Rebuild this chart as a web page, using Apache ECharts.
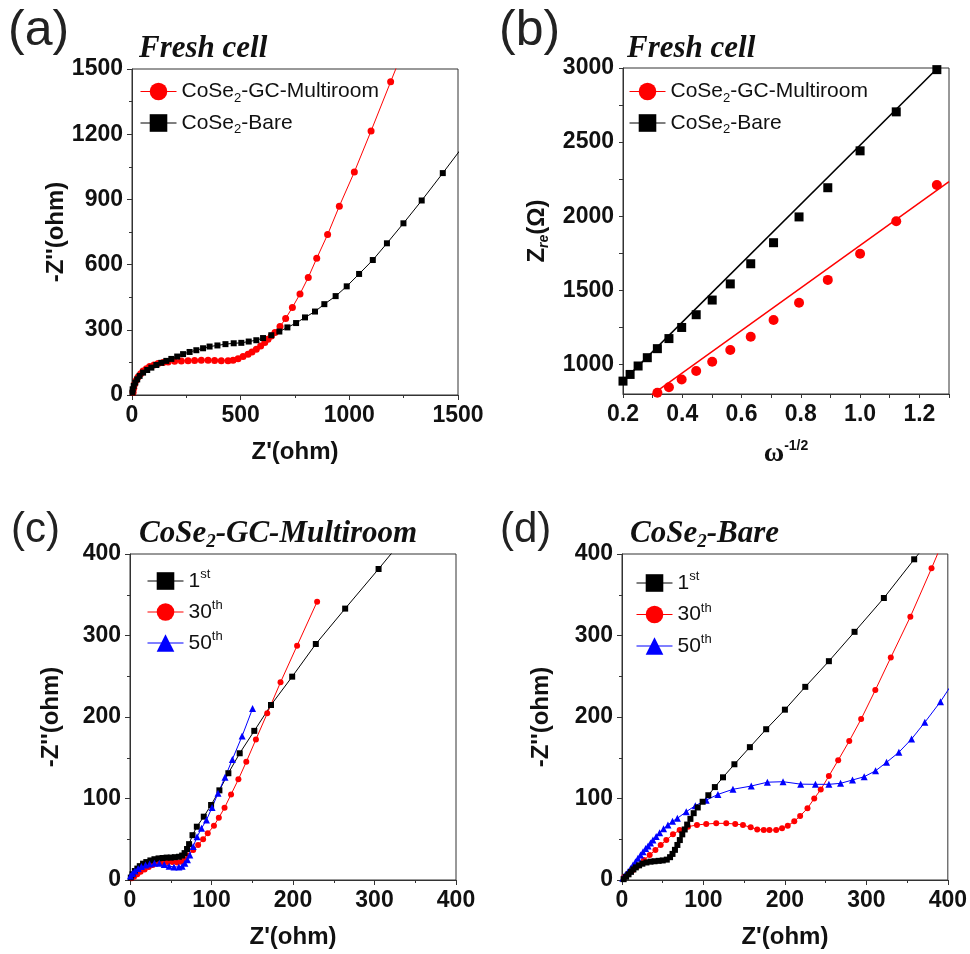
<!DOCTYPE html>
<html>
<head>
<meta charset="utf-8">
<script src="https://cdn.jsdelivr.net/npm/echarts@6/dist/echarts.min.js"></script>
<style>
html, body { margin: 0; padding: 0; background: #fff; }
#chart { width: 970px; height: 954px; }
</style>
</head>
<body>
<div id="chart"></div>
<script>
// (a) fresh cell, Nyquist plot  [Z', -Z'']
var aGC = [[5,11],[8,31],[12,49],[20,68],[28,83],[40,98],[51,111],[66,121],[81,131],[101,138],[120,145],[143,149],[166,152],[196,155],[227,157],[258,158],[288,159],[319,160],[350,160],[380,159],[411,158],[442,158],[465,160],[488,167],[511,177],[534,188],[552,198],[572,211],[592,226],[611,241],[626,257],[641,272],[658,288],[681,315],[707,352],[738,403],[773,465],[811,541],[850,629],[900,738],[954,869],[1023,1026],[1100,1215],[1190,1441],[1290,1690]];
var aBare = [[2,11],[3,26],[8,42],[15,57],[24,72],[35,88],[51,103],[70,115],[89,126],[112,138],[135,148],[158,157],[181,166],[208,177],[235,188],[265,198],[296,206],[327,215],[357,223],[393,228],[430,234],[468,238],[503,240],[537,246],[572,252],[603,262],[641,275],[678,292],[715,311],[755,331],[796,357],[842,384],[885,418],[937,455],[988,500],[1045,557],[1108,621],[1173,698],[1249,790],[1333,895],[1430,1021],[1535,1160]];

// (b) Zre vs omega^-1/2
var bOmega = [1.259,1.122,1.0,0.891,0.794,0.708,0.631,0.562,0.501,0.447,0.398,0.355,0.316,0.282,0.251,0.224,0.200];
var bBare = [2989,2704,2441,2192,1995,1821,1679,1543,1434,1335,1249,1174,1106,1045,989,932,887];
var bGC = [2210,1966,1747,1570,1416,1299,1186,1097,1018,955,898,846,808];
var bFitX = [0.2, 1.3];
var bFitBare = [887, 3076];
var bFitGC = [655, 2233];
var bYTicks = [1000,1250,1500,1750,2000,2250,2500,2750,3000];
var bYLabels = [1000,1500,2000,2500,3000];
var bXTicks = [0.2,0.3,0.4,0.5,0.6,0.7,0.8,0.9,1.0,1.1,1.2,1.3];
var bXLabels = [0.2,0.4,0.6,0.8,1.0,1.2];

// (c) CoSe2-GC-Multiroom after cycling
var cFirst = [[1,3],[3,7],[6,11],[9,14],[12,17],[16,20],[20,22],[25,24],[30,25.5],[35,26.5],[40,27],[45,27.5],[50,27.5],[55,28],[60,28.5],[64,30],[67,33],[70,38],[72.5,44],[76.7,55],[82,65.4],[90.5,77.7],[99.5,92],[109.7,110],[120.7,131],[134.6,155.5],[152.5,183],[173,214.7],[199,249.5],[228,289.6],[264,333],[305,381.6],[350,436]];
var cThirty = [[2,2],[5,4],[9,7],[13,10],[18,13],[23,16],[28,18.5],[34,20.5],[40,21.5],[46,22],[52,22],[58,21.5],[63,22.5],[67,25],[71.4,30],[77.5,36.8],[83.6,43],[89.7,50],[95.4,57.3],[103,66.6],[109,76.5],[116,88.6],[124,105],[133,123.5],[142.7,145],[154.5,172.5],[168.4,204.5],[184.7,242.6],[205,287.5],[229.6,341.5]];
var cFifty = [[0.5,5],[3,8],[6,11],[10,14],[14,16.5],[19,18.5],[24,19.5],[30,20.5],[36,20.5],[42,19],[48,17],[54,16],[60,16],[64,17],[67.3,20.4],[70.5,25],[73.4,30.7],[77.5,41],[82.3,53],[87.7,63.4],[93.8,73.6],[100.7,89],[108,106.4],[116.6,126],[125.6,148],[137.6,176.7],[150.4,210.3]];

// (d) CoSe2-Bare after cycling
var dFirst = [[2,1],[5,4],[8,7],[11,10],[14,13],[17,15.5],[21,18],[25,20],[30,21.5],[35,22.5],[40,23],[45,23.5],[50,24],[55,25],[59,28],[62,32],[65,37],[68,43],[71,49],[74,56],[77,62],[80,68],[84,75],[88,82],[93,89],[99,96],[106,104],[114,114],[124,126],[138,142],[157,163],[177,185],[200,209],[225,237],[254,268.5],[285.5,304.5],[321.5,346],[358.7,393.5],[398,442]];
var dThirty = [[2.5,3.3],[7.4,7.4],[13.5,12.3],[19.6,17.6],[27,24.5],[34,30.7],[41,36.8],[47.5,43],[54.4,49],[62.6,56],[70.8,61.3],[81,65.4],[92,67.5],[103.4,68.7],[115.7,69.5],[128,69.5],[139,68.7],[148.5,67.5],[158,64.6],[166,62],[174,61.3],[181,61.3],[189.3,61.3],[196.5,63.4],[203.5,66.5],[211.5,72],[218.7,78.5],[227.7,88],[236,100],[244,111],[254,127.6],[265.4,147],[279,170.5],[293.6,197.5],[311,233],[330,273],[354,323],[380,382.4],[406,444]];
var dFifty = [[1,2],[4,6],[7.4,10],[10.5,14],[13.5,18.4],[16.5,22.5],[19.6,26.6],[22.7,30.7],[25.8,34.7],[29,38.5],[32,41.7],[35,45.5],[38,49],[42,53.5],[46.2,58],[51,63],[56.4,67.5],[62,72],[68,75.7],[78.9,83.8],[90,91.2],[103.4,98],[117.8,105],[136.2,111.3],[158.7,115.3],[178.5,120],[197.7,120.6],[219.4,117.6],[237.5,117.4],[254,117.4],[268.3,118.6],[283,122.7],[297.3,126.7],[311.3,134],[324.8,144.4],[339.9,156.7],[355.5,173],[371.8,193.5],[391,218.8],[410,248]];

var SANS = 'Arial, "Liberation Sans", sans-serif';
var SERIF = '"Times New Roman", "Liberation Serif", serif';
var AX = '#333';

function zip(xs, ys) {
  var out = [];
  for (var i = 0; i < ys.length; i++) out.push([xs[i], ys[i]]);
  return out;
}

function axis(idx, o) {
  var a = {
    gridIndex: idx,
    type: 'value',
    min: o.min, max: o.max,
    name: o.name,
    nameLocation: 'middle',
    nameGap: o.gap,
    nameTextStyle: { fontSize: 24, fontWeight: 'bold', color: '#111', fontFamily: SANS, rich: o.rich },
    axisLine: { show: true, onZero: false, lineStyle: { color: AX, width: 1 } },
    axisTick: { show: true, inside: false, length: 5, lineStyle: { color: AX, width: 1 } },
    minorTick: { show: true, splitNumber: 2, length: 3, lineStyle: { color: AX, width: 1 } },
    axisLabel: { fontSize: 23, fontWeight: 'bold', color: '#111', fontFamily: SANS, margin: 9,
      formatter: o.fmt || function (v) { return String(v); } },
    splitLine: { show: false }
  };
  if (o.interval) a.interval = o.interval;
  if (o.ticks) {
    a.axisTick.customValues = o.ticks;
    a.axisTick.length = 4;
    a.axisLabel.customValues = o.labels;
    a.minorTick.show = false;
  }
  return a;
}

function grid(l, t) {
  return { left: l, top: t, width: 326, height: 326, show: true, borderColor: AX, borderWidth: 1, backgroundColor: 'transparent' };
}

function lineSeries(name, idx, data, color, symbol, size) {
  return {
    name: name, type: 'line', xAxisIndex: idx, yAxisIndex: idx,
    data: data, symbol: symbol, symbolSize: size, showSymbol: true,
    itemStyle: { color: color, borderWidth: 0 },
    lineStyle: { color: color, width: 1 },
    clip: true, animation: false
  };
}

var legendRich = {
  t: { fontSize: 21, lineHeight: 26, color: '#111', fontFamily: SANS },
  s: { fontSize: 13, lineHeight: 13, verticalAlign: 'bottom', color: '#111', fontFamily: SANS },
  p: { fontSize: 13, lineHeight: 20, verticalAlign: 'top', color: '#111', fontFamily: SANS }
};

function legendFmt(name) {
  if (name.indexOf('CoSe2') === 0) return '{t|CoSe}{s|2}{t|' + name.slice(5) + '}';
  var m = name.match(/^(\d+)(\D+)$/);
  return '{t|' + m[1] + '}{p|' + m[2] + '}';
}

function legend(names, l, t, gap) {
  return {
    data: names, left: l, top: t, orient: 'vertical', padding: 0,
    itemWidth: 36, itemHeight: 22, itemGap: gap,
    selectedMode: false, formatter: legendFmt,
    textStyle: { rich: legendRich },
    lineStyle: { width: 1, opacity: 1 }
  };
}

var titleRich = {
  t: { fontSize: 31, fontWeight: 'bold', fontStyle: 'italic', fontFamily: SERIF, color: '#111', lineHeight: 36 },
  s: { fontSize: 19, fontWeight: 'bold', fontStyle: 'italic', fontFamily: SERIF, color: '#111', lineHeight: 19, verticalAlign: 'bottom' }
};

function panelTitle(text, l, t) {
  return { text: text, left: l, top: t, padding: 0, textStyle: { rich: titleRich } };
}
function letter(text, l, t, size) {
  return { text: text, left: l, top: t, padding: 0, textStyle: { fontSize: size, fontWeight: 'normal', fontFamily: SANS, color: '#222' } };
}

var zName = "-Z''(ohm)";
var xName = "Z'(ohm)";

var option = {
  animation: false,
  backgroundColor: '#fff',
  title: [
    letter('(a)', 8, 6, 50), letter('(b)', 499, 6, 50),
    letter('(c)', 11, 509, 42), letter('(d)', 500, 509, 42),
    panelTitle('{t|Fresh cell}', 139, 31),
    panelTitle('{t|Fresh cell}', 627, 31),
    panelTitle('{t|CoSe}{s|2}{t|-GC-Multiroom}', 139, 516),
    panelTitle('{t|CoSe}{s|2}{t|-Bare}', 630, 516)
  ],
  legend: [
    legend(['CoSe2-GC-Multiroom', 'CoSe2-Bare'], 140, 81, 8),
    legend(['CoSe2-GC-Multiroom', 'CoSe2-Bare'], 629, 81, 8),
    legend(['1st', '30th', '50th'], 147, 568, 7.5),
    legend(['1st', '30th', '50th'], 636, 570, 8)
  ],
  grid: [grid(132, 69), grid(623, 68), grid(130, 554), grid(622, 554)],
  xAxis: [
    axis(0, { min: 0, max: 1500, interval: 500, name: xName, gap: 45 }),
    axis(1, { min: 0.2, max: 1.3, ticks: bXTicks, labels: bXLabels, fmt: function (v) { return v.toFixed(1); },
      name: '{w|ω}{p|-1/2}', gap: 45,
      rich: { w: { fontSize: 28, fontWeight: 'bold', fontFamily: SERIF, color: '#111', lineHeight: 30 },
              p: { fontSize: 14, fontWeight: 'bold', fontFamily: SANS, color: '#111', lineHeight: 22, verticalAlign: 'top' } } }),
    axis(2, { min: 0, max: 400, interval: 100, name: xName, gap: 45 }),
    axis(3, { min: 0, max: 400, interval: 100, name: xName, gap: 45 })
  ],
  yAxis: [
    axis(0, { min: 0, max: 1500, interval: 300, name: zName, gap: 62 }),
    axis(1, { min: 800, max: 3000, ticks: bYTicks, labels: bYLabels,
      name: '{z|Z}{s|re}{z|(Ω)}', gap: 72,
      rich: { z: { fontSize: 24, fontWeight: 'bold', fontFamily: SANS, color: '#111', lineHeight: 28 },
              s: { fontSize: 14, fontStyle: 'italic', fontFamily: SANS, color: '#111', lineHeight: 14, verticalAlign: 'bottom' } } }),
    axis(2, { min: 0, max: 400, interval: 100, name: zName, gap: 67 }),
    axis(3, { min: 0, max: 400, interval: 100, name: zName, gap: 69 })
  ],
  series: [
    lineSeries('CoSe2-GC-Multiroom', 0, aGC, '#ff0000', 'circle', 7),
    lineSeries('CoSe2-Bare', 0, aBare, '#000000', 'rect', 6),

    { name: 'fitBare', type: 'line', xAxisIndex: 1, yAxisIndex: 1, data: zip(bFitX, bFitBare), symbol: 'none',
      lineStyle: { color: '#000', width: 1.5 }, clip: true },
    { name: 'fitGC', type: 'line', xAxisIndex: 1, yAxisIndex: 1, data: zip(bFitX, bFitGC), symbol: 'none',
      lineStyle: { color: '#ff0000', width: 1.5 }, clip: true },
    { name: 'CoSe2-Bare', type: 'scatter', xAxisIndex: 1, yAxisIndex: 1, data: zip(bOmega, bBare),
      symbol: 'rect', symbolSize: 9, itemStyle: { color: '#000', opacity: 1 }, clip: true },
    { name: 'CoSe2-GC-Multiroom', type: 'scatter', xAxisIndex: 1, yAxisIndex: 1, data: zip(bOmega, bGC),
      symbol: 'circle', symbolSize: 10, itemStyle: { color: '#ff0000', opacity: 1 }, clip: true },

    lineSeries('30th', 2, cThirty, '#ff0000', 'circle', 6),
    lineSeries('1st', 2, cFirst, '#000000', 'rect', 6),
    lineSeries('50th', 2, cFifty, '#0000ff', 'triangle', 7),

    lineSeries('30th', 3, dThirty, '#ff0000', 'circle', 6),
    lineSeries('50th', 3, dFifty, '#0000ff', 'triangle', 7),
    lineSeries('1st', 3, dFirst, '#000000', 'rect', 6)
  ]
};

var chart = echarts.init(document.getElementById('chart'), null, { renderer: 'canvas' });
chart.setOption(option);
</script>
</body>
</html>
